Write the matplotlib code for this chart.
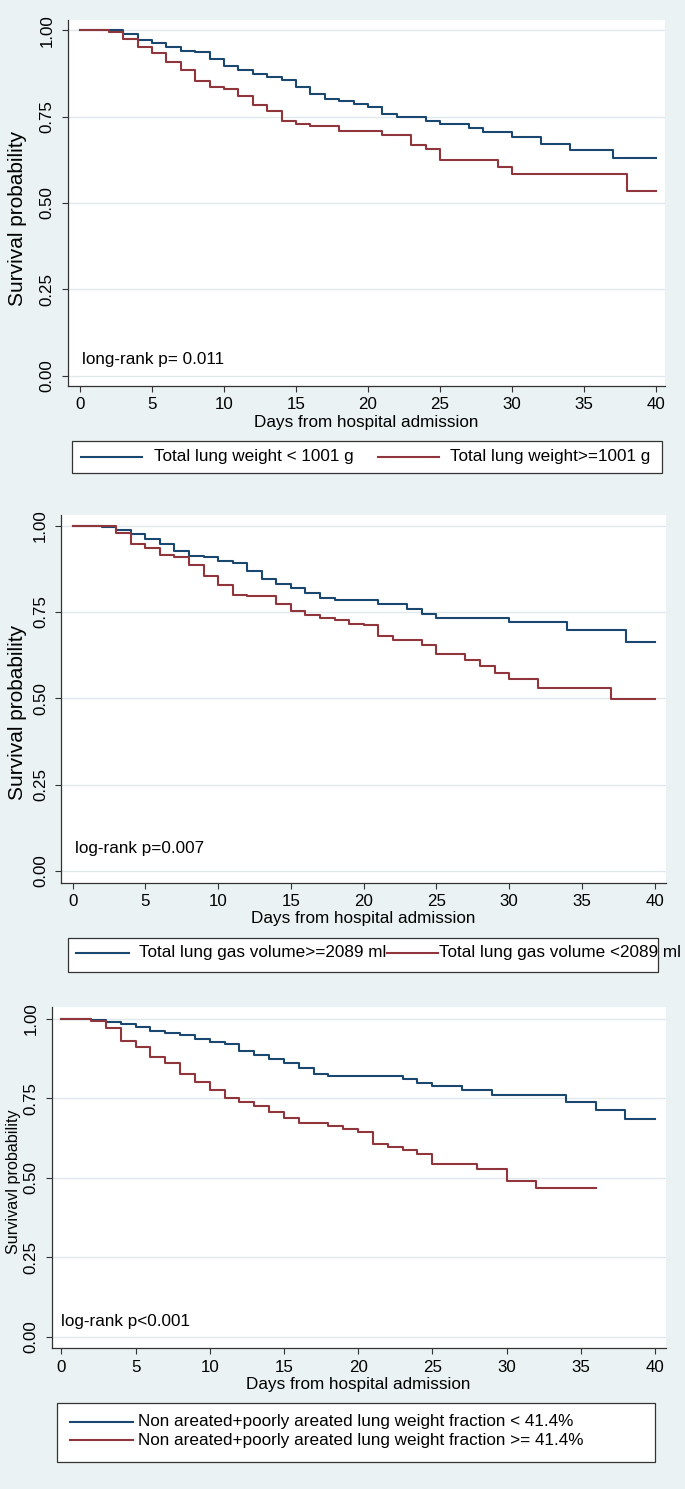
import matplotlib
matplotlib.use("Agg")
import matplotlib.pyplot as plt
from matplotlib import font_manager
from matplotlib.patches import Rectangle
from matplotlib.lines import Line2D

# ---- data ----
p1_blue_days = [0, 3, 4, 5, 6, 7, 8, 9, 10, 11, 12, 13, 14, 15, 16, 17, 18, 19, 20,
                21, 22, 24, 25, 27, 28, 30, 32, 34, 37, 40]
p1_blue_surv = [1.0, 0.989, 0.971, 0.963, 0.951, 0.941, 0.936, 0.917, 0.896, 0.885,
                0.874, 0.866, 0.856, 0.837, 0.817, 0.800, 0.794, 0.788, 0.779, 0.759,
                0.748, 0.738, 0.728, 0.717, 0.705, 0.691, 0.672, 0.652, 0.629, 0.629]
p1_red_days = [0, 2, 3, 4, 5, 6, 7, 8, 9, 10, 11, 12, 13, 14, 15, 16, 18, 21, 23, 24,
               25, 29, 30, 38, 40]
p1_red_surv = [1.0, 0.995, 0.975, 0.952, 0.934, 0.907, 0.885, 0.853, 0.835, 0.829,
               0.809, 0.785, 0.766, 0.737, 0.728, 0.723, 0.708, 0.696, 0.668, 0.655,
               0.623, 0.604, 0.583, 0.534, 0.534]

p2_blue_days = [0, 2, 3, 4, 5, 6, 7, 8, 9, 10, 11, 12, 13, 14, 15, 16, 17, 18, 21, 23,
                24, 25, 30, 34, 38, 40]
p2_blue_surv = [1.0, 0.997, 0.9875, 0.975, 0.962, 0.948, 0.926, 0.913, 0.909, 0.899,
                0.893, 0.868, 0.845, 0.831, 0.821, 0.805, 0.792, 0.784, 0.773, 0.759,
                0.745, 0.734, 0.720, 0.697, 0.6625, 0.6625]
p2_red_days = [0, 3, 4, 5, 6, 7, 8, 9, 10, 11, 12, 14, 15, 16, 17, 18, 19, 20, 21, 22,
               24, 25, 27, 28, 29, 30, 32, 37, 40]
p2_red_surv = [1.0, 0.98, 0.946, 0.935, 0.915, 0.909, 0.885, 0.853, 0.829, 0.80, 0.795,
               0.773, 0.754, 0.740, 0.733, 0.726, 0.716, 0.711, 0.680, 0.668, 0.655,
               0.628, 0.611, 0.593, 0.574, 0.555, 0.531, 0.497, 0.497]

p3_blue_days = [0, 2, 3, 4, 5, 6, 7, 8, 9, 10, 11, 12, 13, 14, 15, 16, 17, 18, 23, 24,
                25, 27, 29, 34, 36, 38, 40]
p3_blue_surv = [1.0, 0.997, 0.99, 0.983, 0.974, 0.963, 0.955, 0.951, 0.937, 0.928,
                0.920, 0.899, 0.887, 0.873, 0.862, 0.847, 0.827, 0.820, 0.81, 0.80,
                0.789, 0.776, 0.762, 0.739, 0.713, 0.684, 0.684]
p3_red_days = [0, 2, 3, 4, 5, 6, 7, 8, 9, 10, 11, 12, 13, 14, 15, 16, 18, 19, 20, 21,
               22, 23, 24, 25, 28, 30, 32, 36]
p3_red_surv = [1.0, 0.995, 0.971, 0.931, 0.913, 0.881, 0.863, 0.826, 0.803, 0.776,
               0.752, 0.739, 0.727, 0.706, 0.69, 0.674, 0.663, 0.655, 0.645, 0.608,
               0.598, 0.587, 0.574, 0.545, 0.527, 0.489, 0.468, 0.468]

x_ticks = [0, 5, 10, 15, 20, 25, 30, 35, 40]
y_ticks = [0.0, 0.25, 0.50, 0.75, 1.0]
y_ticklabels = ["0.00", "0.25", "0.50", "0.75", "1.00"]
x_title = "Days from hospital admission"
y_titles = ["Survival probability", "Survival probability", "Survivavl probability"]
pvalue_texts = ["long-rank p= 0.011", "log-rank p=0.007", "log-rank p<0.001"]
legend_labels = [
    ["Total lung weight < 1001 g", "Total lung weight>=1001 g"],
    ["Total lung gas volume>=2089 ml", "Total lung gas volume <2089 ml"],
    ["Non areated+poorly areated lung weight fraction < 41.4%",
     "Non areated+poorly areated lung weight fraction >= 41.4%"],
]

BLUE = "#1a476f"
RED = "#90353b"
BG = "#eaf2f3"
GRID = "#dfe9ec"

names = {f.name for f in font_manager.fontManager.ttflist}
FONT = "Liberation Sans" if "Liberation Sans" in names else "DejaVu Sans"
plt.rcParams["font.family"] = [FONT, "DejaVu Sans"]

W, H = 685, 1489
fig = plt.figure(figsize=(W / 100, H / 100), dpi=100, facecolor=BG)


def fx(px):
    return px / W


def fy(py):
    return 1 - py / H


# per panel layout in pixels: axes box, limits, label spots, legend box
panels = [
    dict(box=(67.7, 20, 665, 385.7), xlim=(-0.85, 40.63), ylim=(-0.0295, 1.030),
         ylab=(18, 218, 15.0), xlab=(366, 422.5), ptxt=(0.14, 0.045),
         leg=(72, 441, 662, 473), rows=[(457, 81, 142, 154), (457, 378, 439, 450)]),
    dict(box=(61, 515, 666, 882.7), xlim=(-0.80, 40.78), ylim=(-0.034, 1.031),
         ylab=(18, 712, 15.0), xlab=(363, 918.3), ptxt=(0.16, 0.066),
         leg=(68, 938, 658, 972), rows=[(953, 76, 129, 139), (953, 387, 438, 439)]),
    dict(box=(51.5, 1007, 666, 1348.3), xlim=(-0.67, 40.75), ylim=(-0.0365, 1.038),
         ylab=(14, 1182, 11.6), xlab=(358, 1384), ptxt=(-0.05, 0.047),
         leg=(57, 1403, 655, 1462), rows=[(1421.7, 70, 133, 138), (1440, 70, 133, 138)]),
]
curves = [
    (p1_blue_days, p1_blue_surv, p1_red_days, p1_red_surv),
    (p2_blue_days, p2_blue_surv, p2_red_days, p2_red_surv),
    (p3_blue_days, p3_blue_surv, p3_red_days, p3_red_surv),
]

for i, pan in enumerate(panels):
    l, t, r, b = pan["box"]
    ax = fig.add_axes([fx(l), fy(b), fx(r) - fx(l), (b - t) / H])
    ax.set_facecolor("white")
    bd, bs, rd, rs = curves[i]
    ax.step(bd, bs, where="post", color=BLUE, lw=1.5, zorder=3)
    ax.step(rd, rs, where="post", color=RED, lw=1.5, zorder=4)

    ax.set_xlim(*pan["xlim"])
    ax.set_ylim(*pan["ylim"])
    ax.set_xticks(x_ticks)
    ax.set_yticks(y_ticks)
    ax.set_yticklabels(y_ticklabels, rotation=90, va="center")
    ax.grid(axis="y", color=GRID, lw=1.0)
    ax.set_axisbelow(True)
    for s in ["top", "right"]:
        ax.spines[s].set_visible(False)
    for s in ["left", "bottom"]:
        ax.spines[s].set_color("#333333")
        ax.spines[s].set_linewidth(0.9)
    ax.tick_params(direction="out", length=4.3, width=0.8, color="#333333",
                   labelsize=12.2)
    ax.tick_params(axis="x", pad=4)
    ax.tick_params(axis="y", pad=5)

    # axis titles
    ax.set_xlabel(x_title, fontsize=12.3)
    ax.xaxis.set_label_coords((pan["xlab"][0] - l) / (r - l), (b - pan["xlab"][1]) / (b - t))
    ax.xaxis.label.set_va("center")
    yx, yy, ys = pan["ylab"]
    ax.set_ylabel(y_titles[i], fontsize=ys)
    ax.yaxis.set_label_coords((yx - l) / (r - l), (b - yy) / (b - t))
    ax.yaxis.label.set_va("center")

    ax.text(pan["ptxt"][0], pan["ptxt"][1], pvalue_texts[i], fontsize=12.3,
            ha="left", va="center")

    # legend box drawn by hand to keep the stata layout
    gl, gt, gr, gb = pan["leg"]
    fig.add_artist(Rectangle((fx(gl), fy(gb)), fx(gr) - fx(gl), (gb - gt) / H,
                             transform=fig.transFigure, facecolor="white",
                             edgecolor="#333333", lw=0.9))
    for (ry, h0, h1, tx), lab, col in zip(pan["rows"], legend_labels[i], [BLUE, RED]):
        fig.add_artist(Line2D([fx(h0), fx(h1)], [fy(ry), fy(ry)], transform=fig.transFigure,
                              color=col, lw=1.5))
        fig.text(fx(tx), fy(ry), lab, fontsize=12.3, ha="left", va="center")

fig.savefig("out.png", dpi=100, facecolor=BG)
